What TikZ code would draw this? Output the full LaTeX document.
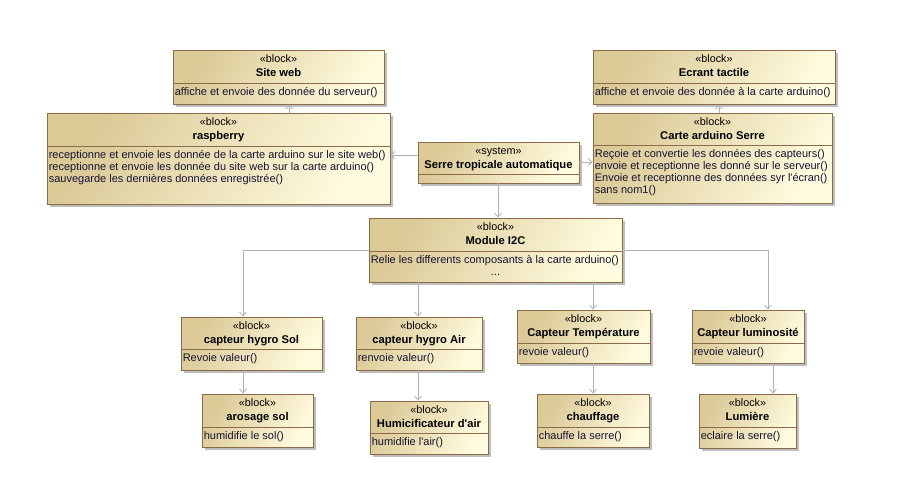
\documentclass[tikz,border=0pt]{standalone}
\usepackage{fontspec}
\setmainfont{Liberation Sans}[Ligatures=TeXOff]
\usetikzlibrary{arrows.meta,fit,shadows}

\definecolor{blkdark}{RGB}{219,201,150}
\definecolor{blklight}{RGB}{255,251,222}
\definecolor{blkborder}{RGB}{140,108,72}
\definecolor{linkgray}{RGB}{176,176,176}
\definecolor{shadowgray}{RGB}{190,190,190}
\definecolor{opstext}{RGB}{20,20,50}

\newcommand{\umlblock}[7]{%
  \node[block, fit={#2 #3}] (#1) {};
  \draw[draw=blkborder, line width=0.8pt] (#1.west |- 0,#4) -- (#1.east |- 0,#4);
  \path (#1.north) ++(0,10.5) node[stereo] {«#5»} ++(0,14) node[blocktitle] {#6};
  \node[ops] at (#1.west |- 0,#4) {#7};
}

\begin{document}
\begin{tikzpicture}[>={Straight Barb[length=4pt,width=7pt]},x=1pt,y=-1pt,
    block/.style={draw=blkborder,line width=0.8pt,top color=blkdark,bottom color=blklight,shading angle=60,inner sep=0pt,
        drop shadow={shadow xshift=3pt,shadow yshift=-3pt,fill=shadowgray,opacity=1}},
    stereo/.style={font=\fontsize{10.8}{12}\selectfont,inner sep=0pt,text height=7.5pt,text depth=2pt},
    blocktitle/.style={font=\fontsize{11.2}{13}\selectfont\bfseries,inner sep=0pt,text height=8pt,text depth=2.5pt},
    ops/.style={anchor=north west,align=left,inner xsep=2pt,inner ysep=4.5pt,font=\fontsize{11}{11.8}\selectfont,text=opstext},
    link/.style={linkgray,line width=0.8pt,->},
    elbow/.style={to path={-| (\tikztotarget)}}]
            \useasboundingbox (0,0) rectangle (899,490);
            \umlblock{web}{(173,50)}{(384,104)}{83}{block}{Site web}{affiche et envoie des donnée du serveur()}
            \umlblock{rasp}{(47,113)}{(390,204)}{146}{block}{raspberry}{receptionne et envoie les donnée de la carte arduino sur le site web()\\receptionne et envoie les donnée du site web sur la carte arduino()\\sauvegarde les dernières données enregistrée()}
            \umlblock{sys}{(418,142)}{(579,183)}{174}{system}{Serre tropicale automatique}{}
            \umlblock{ecran}{(593,50)}{(835,104)}{83}{block}{Ecrant tactile}{affiche et envoie des donnée à la carte arduino()}
            \umlblock{carte}{(593,113)}{(832,203)}{145}{block}{Carte arduino Serre}{Reçoie et convertie les données des capteurs()\\envoie et receptionne les donné sur le serveur()\\Envoie et receptionne des données syr l'écran()\\sans nom1()}
            \umlblock{i2c}{(369,218)}{(622,282)}{251}{block}{Module I2C}{Relie les differents composants à la carte arduino()}
            \node[ops,anchor=base,inner sep=0pt] (i2cdots) at (i2c.center |- 0,275) {...};
            \umlblock{sol}{(181,317)}{(322,370)}{349}{block}{capteur hygro Sol}{Revoie valeur()}
            \umlblock{air}{(356,317)}{(482,370)}{349}{block}{capteur hygro Air}{renvoie valeur()}
            \umlblock{temp}{(517,310)}{(650,363)}{343}{block}{Capteur Température}{revoie valeur()}
            \umlblock{lum}{(692,310)}{(804,363)}{343}{block}{Capteur luminosité}{revoie valeur()}
            \umlblock{arro}{(202,394)}{(313,447)}{427}{block}{arosage sol}{humidifie le sol()}
            \umlblock{humi}{(370,401)}{(488,454)}{433}{block}{Humicificateur d'air}{humidifie l'air()}
            \umlblock{chauf}{(537,394)}{(649,447)}{427}{block}{chauffage}{chauffe la serre()}
            \umlblock{lumi}{(699,394)}{(796,448)}{427}{block}{Lumière}{eclaire la serre()}

            \path[link]
                (rasp.north -| 289,0) edge (web.south -| 289,0)
                (sys.west |- 0,155) edge (rasp.east |- 0,155)
                (sys.east |- 0,162) edge (carte.west |- 0,162)
                (carte.north -| 719,0) edge (ecran.south -| 719,0)
                (sys.south -| 498,0) edge (i2c.north -| 498,0)
                (i2c.west) edge [elbow] (sol.north -| 243,0)
                (i2c.south -| 418,0) edge (air.north -| 418,0)
                (i2c.south -| 593,0) edge (temp.north -| 593,0)
                (i2c.east) edge [elbow] (lum.north -| 768,0)
                (sol.south -| 243,0) edge (arro.north -| 243,0)
                (air.south -| 418,0) edge (humi.north -| 418,0)
                (temp.south -| 593,0) edge (chauf.north -| 593,0)
                (lum.south -| 773,0) edge (lumi.north -| 773,0)
                ;
        \end{tikzpicture}
\end{document}
